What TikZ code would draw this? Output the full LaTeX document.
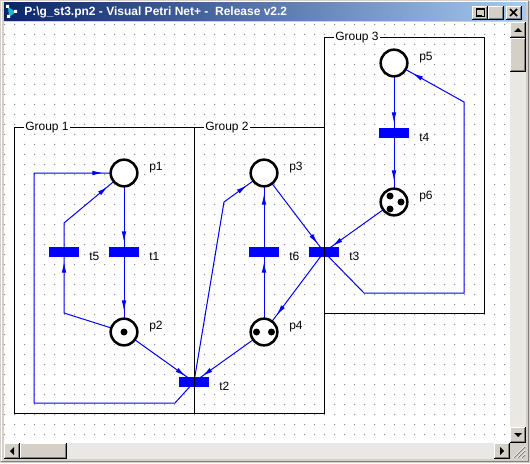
\documentclass[tikz,border=0pt]{standalone}
\usepackage{fontspec}
\setmainfont{Liberation Sans}
\usetikzlibrary{arrows.meta,decorations.markings}
\definecolor{WinGrey}{HTML}{D4D0C8}
\definecolor{WinShadow}{HTML}{808080}
\definecolor{WinTrack}{HTML}{EAE8E4}
\definecolor{TitleDark}{HTML}{0A246A}
\definecolor{TitleLight}{HTML}{A6CAF0}
\definecolor{NetBlue}{HTML}{0000FF}
\definecolor{GridDot}{HTML}{8C8C8C}
\definecolor{IconCyan}{HTML}{20B8C8}
\pgfdeclarelayer{bottom}
\pgfdeclarelayer{arcs}
\pgfdeclarelayer{boxes}
\pgfsetlayers{bottom,arcs,main,boxes}

% raised 3d button, corners in pixels
\newcommand{\winbtn}[4]{%
  \fill[WinGrey] (#1,#2) rectangle (#3,#4);
  \draw[white, line width=0.75pt] (#1+0.5,#4-1) -- (#1+0.5,#2+0.5) -- (#3-1,#2+0.5);
  \draw[black, line width=0.75pt] (#1,#4-0.5) -- (#3-0.5,#4-0.5) -- (#3-0.5,#2);
  \draw[WinShadow, line width=0.75pt] (#1+1,#4-1.5) -- (#3-1.5,#4-1.5) -- (#3-1.5,#2+1);
}

\begin{document}
\begin{tikzpicture}[x=0.75pt,y=-0.75pt,
  place/.style={circle, draw=black, line width=1.9pt, fill=white, minimum size=20pt, inner sep=0pt},
  trans/.style={rectangle, fill=NetBlue, minimum width=22.5pt, minimum height=7.5pt, inner sep=0pt},
  lbl/.style={anchor=west, inner sep=0pt, font=\fontsize{9}{10}\selectfont},
  group/.style={draw=black, line width=0.75pt, inner sep=0pt, outer sep=0pt},
  grplbl/.style={anchor=west, fill=white, inner xsep=0.75pt, inner ysep=0pt, font=\fontsize{9}{10}\selectfont},
  token/.style={fill=black},
  toT/.style={draw=NetBlue, line width=0.75pt, postaction={decorate},
    decoration={markings, mark=at position -7.5pt with {\arrow{Latex[length=8pt,width=3.5pt]}}}},
  toP/.style={draw=NetBlue, line width=0.75pt, postaction={decorate},
    decoration={markings, mark=at position -15.75pt with {\arrow{Latex[length=8pt,width=3.5pt]}}}}
]
  \useasboundingbox (0,0) rectangle (530,463);

  \begin{pgfonlayer}{bottom}
    % window frame
    \fill[WinGrey] (0,0) rectangle (530,463);
    \draw[white, line width=0.75pt] (1.5,461) -- (1.5,1.5) -- (528,1.5);
    \draw[WinShadow, line width=0.75pt] (1,461.5) -- (528.5,461.5) -- (528.5,1);
    % title bar
    \shade[left color=TitleDark, right color=TitleLight] (4,3) rectangle (526,21);
    \fill[IconCyan] (8,7) -- (16,12) -- (9,17) -- cycle;
    \fill[white] (6,5) rectangle (9,8) (14,10) rectangle (17,13) (7,15) rectangle (10,18);
    \node[anchor=west, inner sep=0pt, text=white, font=\bfseries\fontsize{9}{10}\selectfont] (title) at (24,12.5)
      {P:\textbackslash g\_st3.pn2 - Visual Petri Net+ -\ \ Release v2.2};
    \winbtn{472}{6}{488}{20}
    \winbtn{488}{6}{504}{20}
    \winbtn{506}{6}{522}{20}
    \fill[black] (476,15) rectangle (482,17);
    \draw[black, line width=0.75pt] (476.5,8.5) rectangle (484.5,16.5);
    \draw[black, line width=0.75pt] (476.5,9.5) -- (484.5,9.5);
    \draw[black, line width=1.2pt] (510,9) -- (517,16) (517,9) -- (510,16);
    % client area and grid
    \fill[white] (4,22) rectangle (510,443);
    \fill[GridDot] \foreach \gx in {4,14,...,504} {\foreach \gy in {24,34,...,434} {(\gx,\gy) rectangle ++(1,1)}};
    % scroll bars
    \fill[WinTrack] (510,22) rectangle (526,443);
    \fill[WinTrack] (4,443) rectangle (510,459);
    \winbtn{510}{22}{526}{38}
    \winbtn{510}{38}{526}{72}
    \winbtn{510}{427}{526}{443}
    \winbtn{4}{443}{20}{459}
    \winbtn{20}{443}{67}{459}
    \winbtn{494}{443}{510}{459}
    \fill[black] (514,32) -- (522,32) -- (518,28) -- cycle;
    \fill[black] (514,433) -- (522,433) -- (518,437) -- cycle;
    \fill[black] (14,447) -- (14,455) -- (10,451) -- cycle;
    \fill[black] (500,447) -- (500,455) -- (504,451) -- cycle;
    \fill[WinGrey] (510,443) rectangle (526,459);
    \foreach \d in {4,8,12} {
      \draw[white, line width=0.75pt] (525-\d,458) -- (525,458-\d);
      \draw[WinShadow, line width=0.75pt] (526-\d,458) -- (525,459-\d);
    }
  \end{pgfonlayer}

  % places
  \node[place] (p1) at (124,173) {};
  \node[place] (p2) at (124,332) {};
  \node[place] (p3) at (264,173) {};
  \node[place] (p4) at (264,332) {};
  \node[place] (p5) at (394,63) {};
  \node[place] (p6) at (394,202) {};

  % transitions
  \node[trans] (t1) at (124,252) {};
  \node[trans] (t5) at (64,252) {};
  \node[trans] (t2) at (194,382) {};
  \node[trans] (t6) at (264,252) {};
  \node[trans] (t3) at (324,252) {};
  \node[trans] (t4) at (394,133) {};

  % tokens
  \fill[token] (p2.center) circle[radius=3.5];
  \fill[token] ([shift={(-7.5,0)}]p4.center) circle[radius=3.5];
  \fill[token] ([shift={(7.5,0)}]p4.center) circle[radius=3.5];
  \fill[token] ([shift={(-4,-6)}]p6.center) circle[radius=3.5];
  \fill[token] ([shift={(7,0)}]p6.center) circle[radius=3.5];
  \fill[token] ([shift={(-4,7)}]p6.center) circle[radius=3.5];

  % labels
  \node[lbl] (lp1) at (149,168) {p1};
  \node[lbl] (lp2) at (149,327) {p2};
  \node[lbl] (lp3) at (289,168) {p3};
  \node[lbl] (lp4) at (289,327) {p4};
  \node[lbl] (lp5) at (419,58) {p5};
  \node[lbl] (lp6) at (419,197) {p6};
  \node[lbl] (lt1) at (149,256) {t1};
  \node[lbl] (lt5) at (89,256) {t5};
  \node[lbl] (lt2) at (219,386) {t2};
  \node[lbl] (lt6) at (289,256) {t6};
  \node[lbl] (lt3) at (349,256) {t3};
  \node[lbl] (lt4) at (419,137) {t4};

  % arcs
  \begin{pgfonlayer}{arcs}
    \draw[toT] (p1.center) -- (t1.center);
    \draw[toP] (t1.center) -- (p2.center);
    \draw[toT] (p2.center) -- (64,313) -- (t5.center);
    \draw[toP] (t5.center) -- (64,223) -- (p1.center);
    \draw[toT] (p2.center) -- (t2.center);
    \draw[toP] (t2.center) -- (175,403) -- (34,403) -- (34,173) -- (p1.center);
    \draw[toP] (t2.center) -- (224,202) -- (p3.center);
    \draw[toT] (p4.center) -- (t2.center);
    \draw[toT] (p3.center) -- (t3.center);
    \draw[toP] (t3.center) -- (p4.center);
    \draw[toT] (p4.center) -- (t6.center);
    \draw[toP] (t6.center) -- (p3.center);
    \draw[toT] (p5.center) -- (t4.center);
    \draw[toP] (t4.center) -- (p6.center);
    \draw[toT] (p6.center) -- (t3.center);
    \draw[toP] (t3.center) -- (364,293) -- (464,293) -- (464,102) -- (p5.center);
  \end{pgfonlayer}

  % groups
  \begin{pgfonlayer}{boxes}
    \node[group, minimum width=135pt, minimum height=213.75pt] (g1) at (104,270.5) {};
    \node[group, minimum width=97.5pt, minimum height=213.75pt] (g2) at (259,270.5) {};
    \node[group, minimum width=120pt, minimum height=206.25pt] (g3) at (404,175.5) {};
    \node[grplbl] (lg1) at ([xshift=7.5pt]g1.north west) {Group 1};
    \node[grplbl] (lg2) at ([xshift=7.5pt]g2.north west) {Group 2};
    \node[grplbl] (lg3) at ([xshift=7.5pt]g3.north west) {Group 3};
  \end{pgfonlayer}
\end{tikzpicture}
\end{document}
